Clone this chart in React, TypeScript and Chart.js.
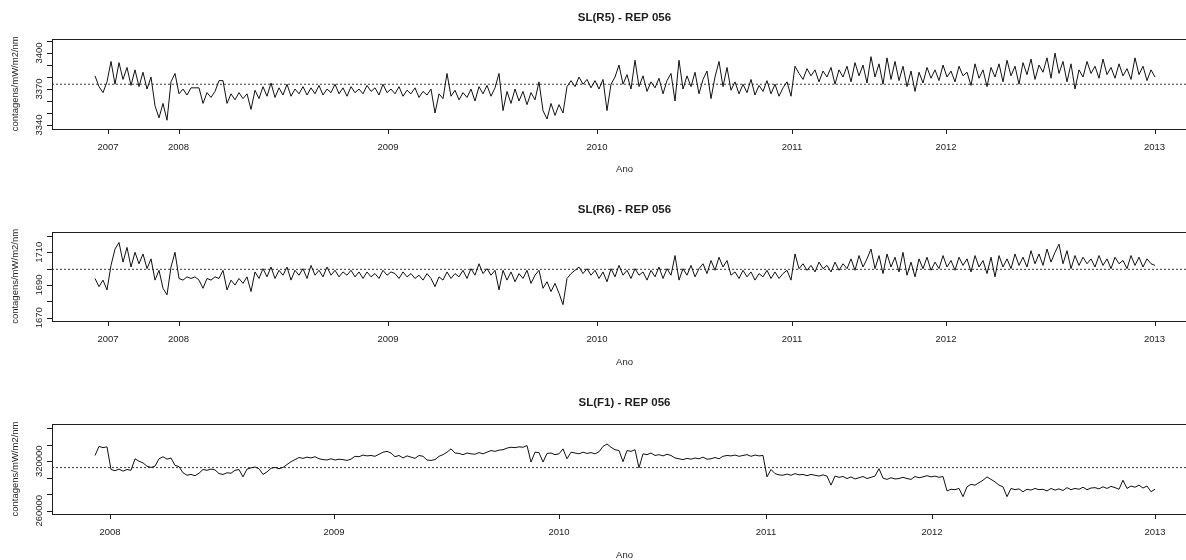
import React, { useEffect, useRef } from 'react';
import { Chart, registerables } from 'chart.js';

Chart.register(...registerables);

// Observations between consecutive stored samples
const SAMPLE_STEP = 4;

// SL(R5) readings, one per SAMPLE_STEP observations
const r5Values = [
  3381, 3372, 3367, 3376, 3393, 3374, 3392, 3378, 3388, 3373,
  3386, 3372, 3384, 3370, 3380, 3356, 3346, 3358, 3344, 3376,
  3383, 3366, 3370, 3365, 3371, 3371, 3371, 3358, 3367, 3363,
  3368, 3377, 3377, 3358, 3366, 3361, 3367, 3362, 3366, 3353,
  3369, 3362, 3372, 3364, 3375, 3363, 3371, 3365, 3374, 3364,
  3370, 3366, 3372, 3365, 3371, 3366, 3373, 3365, 3370, 3367,
  3374, 3366, 3371, 3364, 3372, 3367, 3370, 3366, 3373, 3368,
  3371, 3365, 3374, 3367, 3370, 3366, 3372, 3364, 3369, 3366,
  3371, 3363, 3368, 3365, 3370, 3350, 3366, 3362, 3383, 3364,
  3369, 3361, 3367, 3363, 3370, 3360, 3372, 3366, 3373, 3364,
  3371, 3383, 3352, 3368, 3358, 3370, 3360, 3368, 3357, 3367,
  3361, 3376, 3352, 3345, 3358, 3348, 3357, 3350, 3372, 3377,
  3372, 3380, 3374, 3378, 3371, 3377, 3370, 3378, 3352, 3374,
  3380, 3390, 3374, 3382, 3370, 3394, 3372, 3381, 3368, 3376,
  3371, 3379, 3366, 3377, 3383, 3360, 3394, 3370, 3381, 3372,
  3384, 3366, 3378, 3385, 3362, 3380, 3393, 3372, 3388, 3369,
  3376, 3366, 3374, 3367, 3378, 3365, 3373, 3368, 3377, 3366,
  3374, 3364, 3371, 3376, 3364, 3389, 3383, 3378, 3387, 3381,
  3386, 3376, 3385, 3380, 3388, 3374, 3386, 3380, 3389, 3376,
  3392, 3381, 3390, 3375, 3397, 3380, 3391, 3374, 3396, 3378,
  3393, 3377, 3389, 3372, 3385, 3368, 3384, 3375, 3388, 3379,
  3386, 3377, 3390, 3380, 3385, 3376, 3389, 3381, 3384, 3373,
  3391, 3379, 3386, 3372, 3388, 3380, 3391, 3376, 3394, 3381,
  3389, 3374, 3392, 3382, 3395, 3378, 3390, 3384, 3396, 3379,
  3400, 3383, 3393, 3376, 3391, 3370, 3386, 3380, 3393, 3383,
  3389, 3379, 3395, 3382, 3388, 3379, 3391, 3381, 3387, 3378,
  3396, 3382, 3389, 3377, 3386, 3380,
];

// SL(R6) readings
const r6Values = [
  1694, 1689, 1693, 1687, 1702, 1712, 1716, 1704, 1713, 1701,
  1710, 1703, 1709, 1700, 1706, 1693, 1699, 1688, 1684, 1701,
  1710, 1694, 1693, 1695, 1694, 1695, 1693, 1688, 1694, 1693,
  1695, 1694, 1699, 1687, 1693, 1690, 1694, 1691, 1695, 1686,
  1698, 1694, 1700, 1695, 1701, 1694, 1699, 1696, 1701, 1693,
  1699, 1696, 1700, 1694, 1702, 1696, 1699, 1695, 1701, 1696,
  1699, 1695, 1698, 1696, 1699, 1695, 1698, 1694, 1698, 1695,
  1697, 1694, 1699, 1696, 1698, 1697, 1694, 1698, 1695, 1697,
  1694, 1696, 1693, 1697, 1694, 1689, 1695, 1693, 1698, 1694,
  1697, 1695, 1699, 1694, 1700, 1696, 1703, 1697, 1700, 1696,
  1699, 1687, 1699, 1693, 1698, 1692, 1697, 1694, 1699, 1691,
  1696, 1699, 1688, 1692, 1686, 1691, 1685, 1678, 1694, 1697,
  1699, 1701, 1697, 1700, 1696, 1699, 1694, 1698, 1692, 1700,
  1695, 1702, 1696, 1699, 1694, 1700, 1696, 1698, 1693, 1699,
  1695, 1701, 1694, 1700, 1696, 1708, 1693, 1700, 1696, 1702,
  1695, 1700, 1703, 1697, 1705, 1699, 1707, 1701, 1705, 1696,
  1698, 1694, 1699, 1695, 1698, 1693, 1697, 1695, 1699, 1694,
  1698, 1694, 1697, 1699, 1693, 1709, 1700, 1703, 1699, 1702,
  1698, 1704, 1700, 1702, 1698, 1704, 1699, 1703, 1700, 1706,
  1699, 1708, 1701, 1706, 1712, 1700, 1708, 1697, 1709, 1701,
  1707, 1698, 1710, 1696, 1704, 1695, 1706, 1700, 1707, 1699,
  1704, 1700, 1708, 1701, 1705, 1699, 1707, 1702, 1706, 1698,
  1708, 1701, 1705, 1697, 1707, 1695, 1708, 1701, 1706, 1700,
  1709, 1702, 1707, 1701, 1711, 1703, 1709, 1702, 1712, 1704,
  1710, 1715, 1703, 1711, 1700, 1708, 1702, 1707, 1703, 1706,
  1701, 1708, 1702, 1706, 1700, 1707, 1703, 1705, 1700, 1708,
  1702, 1707, 1701, 1706, 1703, 1702,
];

// SL(F1) readings
const f1Values = [
  327000, 338000, 336500, 337500, 310000, 308500, 310500, 308000, 310000, 309000,
  323000, 320000, 318000, 314000, 312500, 314000, 323000, 325500, 322500, 324000,
  315000, 313500, 306000, 303000, 304000, 302500, 305500, 310000, 309000, 310500,
  309500, 305000, 304000, 306000, 305500, 309000, 310000, 301000, 310500, 312000,
  313000, 311000, 304000, 307000, 311500, 312500, 311000, 312500, 316000, 319500,
  322000, 324500, 323500, 325000, 324000, 325500, 323000, 322000, 321500, 323000,
  321500, 322500, 322000, 321000, 322500, 326000, 325500, 327500, 326500, 327000,
  326000, 328500, 331000, 332000, 330000, 325500, 327000, 324000, 326500, 325000,
  323500, 327000, 326000, 321500, 321000, 322000, 326000, 328000, 331000, 335000,
  330000, 329500, 328000, 330000, 329000, 328500, 330500, 329000, 331000, 333000,
  332000, 333500, 334000, 336000, 337000, 336500, 337500, 337000, 339000, 319000,
  331000, 330500, 319000, 329500, 330000, 328000, 329000, 335000, 323000, 331000,
  330000, 329000, 331000, 329500, 330500, 329000, 331500, 338000, 341000, 337000,
  334000, 333000, 319500, 333000, 332000, 334000, 312000, 329000, 328000, 330000,
  327000, 328000, 326500, 328500, 327000, 324000, 323000, 322000, 323500, 322500,
  324000, 323000, 325000, 322500, 323000, 324500, 323000, 326000, 327000, 326500,
  327500, 326000, 327000, 328000, 326000, 327500, 326500, 327000, 301000, 310000,
  305000, 303500, 303000, 304500, 303000, 305000, 303500, 304000, 302500, 304000,
  303000, 302000, 303500, 302000, 291000, 302000, 300500, 301500, 299000, 301000,
  298500, 300000, 301500, 299000, 300500, 302000, 311000, 299500, 298000, 300000,
  298500, 299000, 300500, 299000, 298000, 301500, 300000, 301000, 302500, 301000,
  302000, 300500, 301500, 284000, 286000, 285500, 287000, 277000, 289000, 292000,
  291000, 294000, 297000, 301000, 298000, 295000, 291000, 289000, 277000, 287000,
  285500, 286500, 283000, 286000, 285000, 287000, 285500, 286000, 284000, 287000,
  285000, 286500, 284500, 288000, 285500, 287000, 286000, 288500, 285500, 287500,
  288000, 286500, 289000, 287000, 289500, 288000, 286000, 297000, 287000, 290000,
  288500, 291000, 287500, 290000, 283000, 286000,
];

const r5Title = 'SL(R5) - REP 056';
const r6Title = 'SL(R6) - REP 056';
const f1Title = 'SL(F1) - REP 056';
const yAxisTitle = 'contagens/mW/m2/nm';
const xAxisTitle = 'Ano';

// Observation index where each year starts
const rYearObs = [13, 83.5, 293, 502, 697, 851, 1059.5];
const rYearLabels = ['2007', '2008', '2009', '2010', '2011', '2012', '2013'];
const f1YearObs = [15, 239, 464, 671, 837, 1060];
const f1YearLabels = ['2008', '2009', '2010', '2011', '2012', '2013'];

// Dotted reference levels (series means)
const r5Mean = 3374;
const r6Mean = 1699.6;
const f1Mean = 312300;

// y tick values and their labels
const r5TickValues = [3340, 3350, 3360, 3370, 3380, 3390, 3400, 3410];
const r5TickLabels = ['3340', '', '', '3370', '', '', '3400', ''];
const r6TickValues = [1670, 1680, 1690, 1700, 1710, 1720];
const r6TickLabels = ['1670', '', '1690', '', '1710', ''];
const f1TickValues = [260000, 280000, 300000, 320000, 340000, 360000];
const f1TickLabels = ['260000', '', '', '320000', '', ''];

const FONT = '"Liberation Sans", Arial, sans-serif';
const INK = '#1e1e1e';
const CANVAS_W = 1230;
const CANVAS_H = 560;
const X_MIN = -43;
const X_MAX = 1102;

const PANELS = [
  {
    title: r5Title, values: r5Values, mean: r5Mean, yearObs: rYearObs, yearLabels: rYearLabels,
    yTicks: r5TickValues, yLabels: r5TickLabels, yMin: 3337.1, yMax: 3411.7,
    boxTop: 39, boxBottom: 128.5, titleY: 18.3,
  },
  {
    title: r6Title, values: r6Values, mean: r6Mean, yearObs: rYearObs, yearLabels: rYearLabels,
    yTicks: r6TickValues, yLabels: r6TickLabels, yMin: 1668.0, yMax: 1722.6,
    boxTop: 231.7, boxBottom: 321, titleY: 210,
  },
  {
    title: f1Title, values: f1Values, mean: f1Mean, yearObs: f1YearObs, yearLabels: f1YearLabels,
    yTicks: f1TickValues, yLabels: f1TickLabels, yMin: 256000, yMax: 365200,
    boxTop: 424, boxBottom: 514, titleY: 403.3,
  },
];

type PanelCfg = (typeof PANELS)[number];

function makeFramePlugin(p: PanelCfg) {
  return {
    id: 'rFrame',
    afterDatasetsDraw(chart: any) {
      const { ctx, chartArea: a } = chart;
      const xs = chart.scales.x;
      const ys = chart.scales.y;
      ctx.save();
      ctx.strokeStyle = INK;
      ctx.lineWidth = 1;
      ctx.strokeRect(
        Math.round(a.left) + 0.5,
        Math.round(a.top) + 0.5,
        Math.round(a.right - a.left),
        Math.round(a.bottom - a.top)
      );
      ctx.beginPath();
      p.yearObs.forEach((v) => {
        const px = Math.round(xs.getPixelForValue(v)) + 0.5;
        ctx.moveTo(px, Math.round(a.bottom));
        ctx.lineTo(px, Math.round(a.bottom) + 5);
      });
      p.yTicks.forEach((v) => {
        const py = Math.round(ys.getPixelForValue(v)) + 0.5;
        ctx.moveTo(Math.round(a.left), py);
        ctx.lineTo(Math.round(a.left) - 5, py);
      });
      ctx.stroke();

      ctx.fillStyle = INK;
      ctx.textAlign = 'center';
      ctx.textBaseline = 'middle';
      ctx.font = `9.5px ${FONT}`;
      p.yearObs.forEach((v, i) => {
        ctx.fillText(p.yearLabels[i], xs.getPixelForValue(v), a.bottom + 18.5);
      });
      ctx.font = `9.5px ${FONT}`;
      ctx.fillText(xAxisTitle, (a.left + a.right) / 2, a.bottom + 41);

      ctx.font = `bold 11.5px ${FONT}`;
      ctx.fillText(p.title, (a.left + a.right) / 2, p.titleY);

      ctx.font = `9.5px ${FONT}`;
      p.yTicks.forEach((v, i) => {
        const lbl = p.yLabels[i];
        if (!lbl) return;
        ctx.save();
        ctx.translate(39.5, ys.getPixelForValue(v));
        ctx.rotate(-Math.PI / 2);
        ctx.fillText(lbl, 0, 0);
        ctx.restore();
      });

      ctx.font = `9.5px ${FONT}`;
      ctx.save();
      ctx.translate(15.7, (a.top + a.bottom) / 2);
      ctx.rotate(-Math.PI / 2);
      ctx.fillText(yAxisTitle, 0, 0);
      ctx.restore();

      ctx.restore();
    },
  };
}

function Panel({ cfg }: { cfg: PanelCfg }) {
  const ref = useRef<HTMLCanvasElement>(null);
  useEffect(() => {
    const canvas = ref.current;
    if (!canvas) return;
    const series = cfg.values.map((v, i) => ({ x: i * SAMPLE_STEP, y: v }));
    const meanLine = [
      { x: X_MIN, y: cfg.mean },
      { x: X_MAX, y: cfg.mean },
    ];
    const chart = new Chart(canvas, {
      type: 'line',
      data: {
        datasets: [
          {
            data: series,
            borderColor: '#111111',
            borderWidth: 1,
            pointRadius: 0,
            tension: 0,
            fill: false,
          },
          {
            data: meanLine,
            borderColor: '#3a3a3a',
            borderWidth: 1,
            borderDash: [2, 2],
            pointRadius: 0,
            fill: false,
          },
        ],
      },
      options: {
        responsive: false,
        animation: false,
        devicePixelRatio: 1,
        events: [],
        layout: {
          padding: {
            left: 52,
            right: CANVAS_W - 1197,
            top: cfg.boxTop,
            bottom: CANVAS_H - cfg.boxBottom,
          },
        },
        plugins: {
          legend: { display: false },
          tooltip: { enabled: false },
          title: { display: false },
        },
        scales: {
          x: { type: 'linear', display: false, min: X_MIN, max: X_MAX },
          y: { type: 'linear', display: false, min: cfg.yMin, max: cfg.yMax },
        },
      },
      plugins: [makeFramePlugin(cfg)],
    } as any);
    return () => chart.destroy();
  }, [cfg]);
  return (
    <canvas
      ref={ref}
      width={CANVAS_W}
      height={CANVAS_H}
      style={{ position: 'absolute', left: 0, top: 0, width: CANVAS_W, height: CANVAS_H }}
    />
  );
}

export default function App() {
  return (
    <div
      style={{
        position: 'fixed',
        left: 0,
        top: 0,
        width: 1186,
        height: 560,
        overflow: 'hidden',
        background: '#ffffff',
      }}
    >
      {PANELS.map((p) => (
        <Panel key={p.title} cfg={p} />
      ))}
    </div>
  );
}
